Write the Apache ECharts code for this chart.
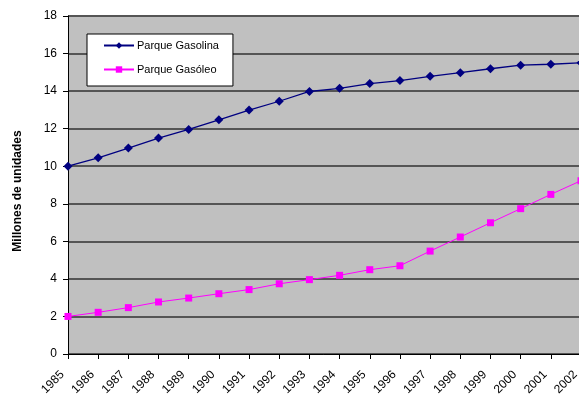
<!DOCTYPE html>
<html>
<head>
<meta charset="utf-8">
<script src="https://cdn.jsdelivr.net/npm/echarts@6/dist/echarts.min.js"></script>
<style>
  html, body { margin: 0; padding: 0; background: #ffffff; }
  #chart { width: 579px; height: 396px; }
</style>
</head>
<body>
<div id="chart"></div>
<script>
// Vehicle fleet in Spain, petrol vs diesel (millions of units)
const years = ['1985', '1986', '1987', '1988', '1989', '1990', '1991', '1992', '1993',
  '1994', '1995', '1996', '1997', '1998', '1999', '2000', '2001', '2002'];
const gasolina = [10.0, 10.45, 10.97, 11.5, 11.96, 12.47, 12.99, 13.46, 13.98,
  14.15, 14.4, 14.56, 14.79, 14.98, 15.19, 15.38, 15.43, 15.51];
const gasoleo = [2.0, 2.22, 2.47, 2.77, 2.98, 3.21, 3.43, 3.74, 3.96,
  4.19, 4.49, 4.7, 5.48, 6.23, 6.99, 7.74, 8.5, 9.23];
const yTicks = { min: 0, max: 18, step: 2 };

const chart = echarts.init(document.getElementById('chart'), null, { renderer: 'canvas' });
const font = 'Liberation Sans, Arial, sans-serif';

chart.setOption({
  animation: false,
  backgroundColor: '#ffffff',
  textStyle: { fontFamily: font },
  grid: {
    left: 68, top: 16, right: -2, bottom: 42,
    outerBoundsMode: 'none',
    containLabel: false,
    show: true, backgroundColor: '#c0c0c0', borderWidth: 0
  },
  legend: {
    orient: 'vertical',
    left: 87, top: 34,
    padding: [6, 14, 11, 16],
    itemWidth: 30, itemHeight: 8, itemGap: 13,
    backgroundColor: '#ffffff',
    borderColor: '#000000', borderWidth: 1,
    textStyle: { fontSize: 11, color: '#000000', fontFamily: font, padding: [0, 0, 0, -2] },
    data: ['Parque Gasolina', 'Parque Gasóleo']
  },
  xAxis: {
    type: 'category',
    data: years,
    boundaryGap: false,
    axisLine: { show: true, lineStyle: { color: '#000000', width: 1 } },
    axisTick: { show: true, length: 5, interval: 0, lineStyle: { color: '#000000' } },
    axisLabel: {
      interval: 0, rotate: 45, margin: 13, hideOverlap: false,
      padding: [0, 8, 0, 0],
      fontSize: 12, color: '#000000', fontFamily: font
    },
    splitLine: { show: false }
  },
  yAxis: {
    type: 'value',
    min: yTicks.min, max: yTicks.max, interval: yTicks.step,
    name: 'Millones de unidades',
    nameLocation: 'middle',
    nameGap: 44,
    nameTextStyle: {
      fontSize: 12, fontWeight: 'bold', color: '#000000', fontFamily: font,
      padding: [0, 12, 0, 0]
    },
    axisLine: { show: true, lineStyle: { color: '#000000', width: 1 } },
    axisTick: { show: true, length: 5, lineStyle: { color: '#000000' } },
    axisLabel: { margin: 11, fontSize: 12, color: '#000000', fontFamily: font },
    splitLine: { show: true, lineStyle: { color: '#555555', width: 2 } }
  },
  series: [
    {
      name: 'Parque Gasolina',
      type: 'line',
      data: gasolina,
      color: '#000080',
      symbol: 'diamond',
      symbolSize: 9,
      showAllSymbol: true,
      lineStyle: { color: '#000080', width: 1.3 },
      itemStyle: { color: '#000080' }
    },
    {
      name: 'Parque Gasóleo',
      type: 'line',
      data: gasoleo,
      color: '#ff00ff',
      symbol: 'rect',
      symbolSize: 7,
      showAllSymbol: true,
      lineStyle: { color: '#ff00ff', width: 1 },
      itemStyle: { color: '#ff00ff' }
    }
  ]
});
</script>
</body>
</html>
